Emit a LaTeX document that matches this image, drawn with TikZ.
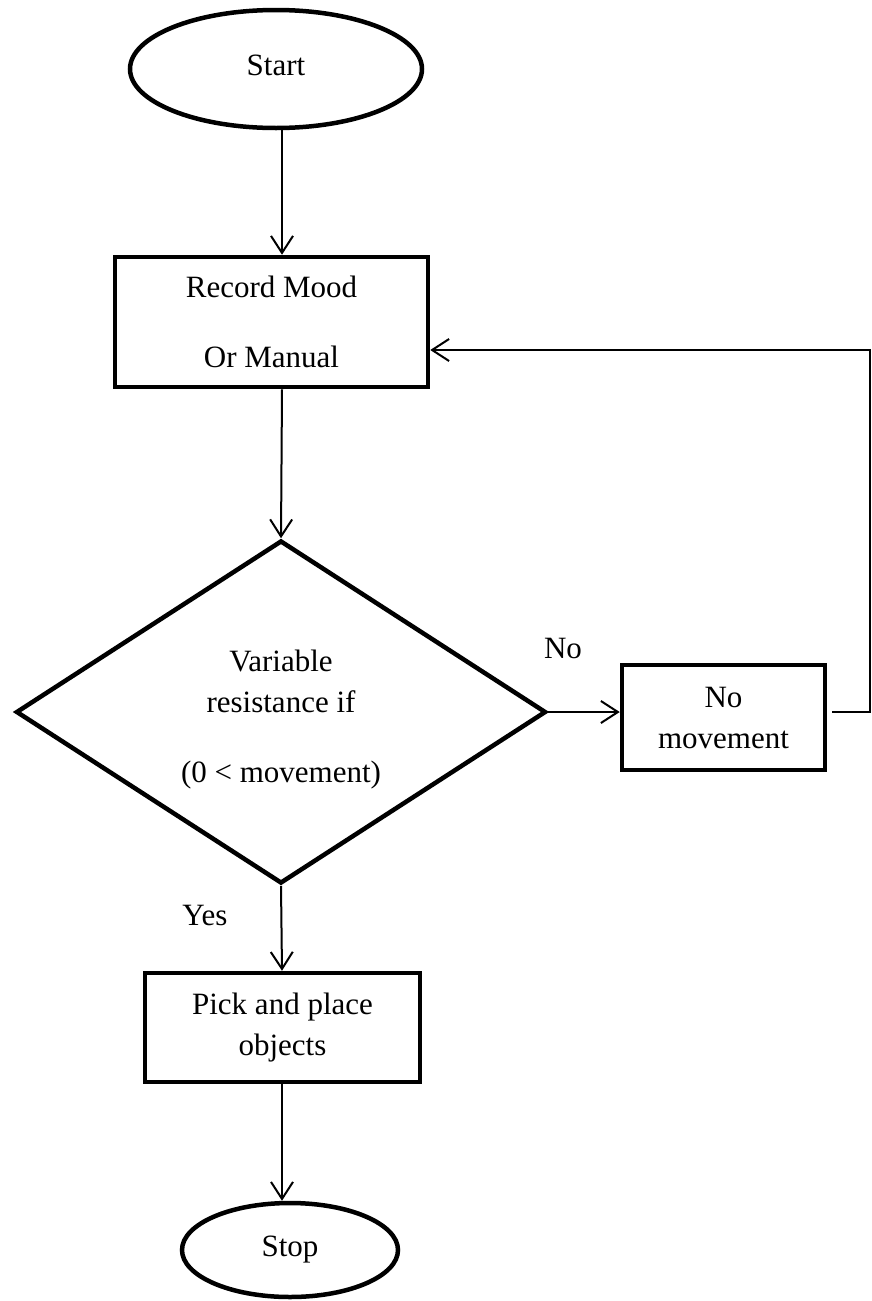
\documentclass[tikz,border=0pt]{standalone}
\usepackage{fontspec}
\setmainfont{Liberation Serif}
\usetikzlibrary{shapes.geometric,arrows.meta}

\begin{document}
\begin{tikzpicture}[x=1pt,y=-1pt,
    font=\fontsize{31}{41}\selectfont,
    terminal/.style={ellipse, draw, line width=4.5pt, inner sep=0pt},
    process/.style={rectangle, draw, line width=4.5pt, inner sep=0pt, align=center},
    decision/.style={diamond, aspect=1.545, draw, line width=4.5pt, inner sep=0pt, align=center},
    arr/.style={-{Straight Barb[length=17pt,width=22pt]}, line width=2pt}]
    % Frame
    \useasboundingbox (0,0) rectangle (872,1301);
    \coordinate (spine) at (282,0);
    \coordinate (loop) at (870,350);

    % Blocks
    \node[terminal, minimum width=292pt, minimum height=118pt] (start) at (276,69) {\raisebox{8pt}{Start}};
    \node[process, minimum width=313pt, minimum height=130pt] (rec) at (271.5,322) {Record Mood\\[29pt]Or Manual};
    \node[decision, minimum width=530pt, minimum height=343pt] (dec) at (281,712) {\rule{0pt}{37pt}Variable\\resistance if\\[29pt](0 < movement)};
    \node[process, minimum width=203pt, minimum height=105pt] (nomove) at (723.5,717.5) {No\\movement};
    \node[process, minimum width=275pt, minimum height=109pt] (pick) at (282.5,1027.5) {Pick and place\\objects};
    \node[terminal, minimum width=216pt, minimum height=94pt] (stop) at (290,1250) {Stop};

    % Branch labels
    \node (nolbl) at (563,648) {No};
    \node (yeslbl) at (205,915) {Yes};

    % Arrows
    \draw[arr] (start.south -| spine) -- (rec.north -| spine);
    \draw[arr] (rec.south -| spine) -- (dec.north);
    \draw[arr] (dec.east) -- (nomove.west |- dec.east);
    \draw[arr] ([xshift=5pt]nomove.east |- dec.east) -| (loop) -- (rec.east |- loop);
    \draw[arr] (dec.south) -- (pick.north -| spine);
    \draw[arr] (pick.south -| spine) -- (stop.north -| spine);
\end{tikzpicture}
\end{document}
